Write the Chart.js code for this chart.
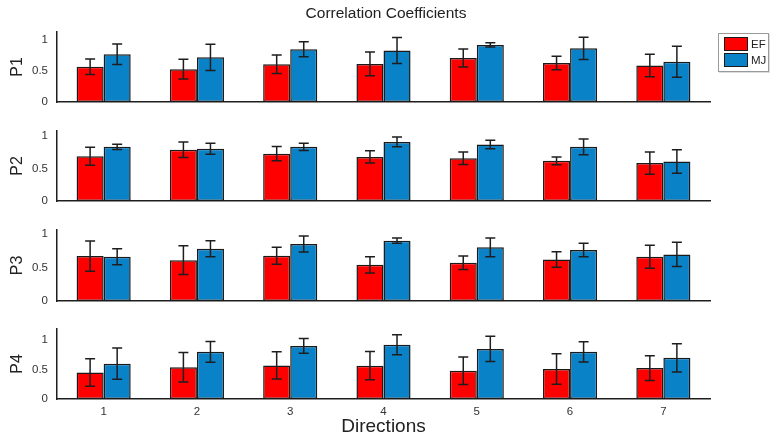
<!DOCTYPE html>
<html>
<head>
<meta charset="utf-8">
<script src="https://cdn.jsdelivr.net/npm/chart.js@4.4.1/dist/chart.umd.min.js"></script>
<style>
  html, body { margin: 0; padding: 0; background: #fff; }
  body { width: 772px; height: 442px; position: relative; overflow: hidden; font-family: "Liberation Sans", Arial, sans-serif; }
  #title { position: absolute; left: 0; top: 4px; width: 772px; text-align: center; font-size: 15.5px; color: #222; z-index: 2; }
  .panel { position: absolute; left: 0; }
  #legend { position: absolute; left: 718px; top: 33px; width: 49px; height: 37px; border: 1px solid #9a9a9a; background: #fff; box-shadow: 1px 1px 0 #ddd; z-index: 2; }
  .lg { position: absolute; left: 5px; height: 14px; width: 24px; border: 1.5px solid #1a1a1a; box-sizing: border-box; }
  .lt { position: absolute; left: 32px; font-size: 11.5px; color: #222; line-height: 14px; }
</style>
</head>
<body>
<div id="title">Correlation Coefficients</div>
<div id="panels"></div>
<div id="legend">
  <div class="lg" style="top:3px;background:#FF0000"></div><div class="lt" style="top:3px">EF</div>
  <div class="lg" style="top:19px;background:#0A82C8"></div><div class="lt" style="top:19px">MJ</div>
</div>
<script>
// ---- data ----
const directions = ['1', '2', '3', '4', '5', '6', '7'];
const panelNames = ['P1', 'P2', 'P3', 'P4'];
const seriesNames = ['EF', 'MJ'];
const yTickValues = [0, 0.5, 1];
const yMax = [1.13, 1.08, 1.06, 1.19];

const efP1 = [0.57, 0.53, 0.61, 0.615, 0.71, 0.63, 0.59];
const efErrP1 = [0.125, 0.16, 0.15, 0.19, 0.145, 0.11, 0.18];
const mjP1 = [0.77, 0.72, 0.85, 0.83, 0.92, 0.865, 0.65];
const mjErrP1 = [0.165, 0.21, 0.12, 0.21, 0.035, 0.18, 0.25];

const efP2 = [0.69, 0.79, 0.73, 0.68, 0.66, 0.62, 0.585];
const efErrP2 = [0.14, 0.12, 0.11, 0.095, 0.095, 0.06, 0.17];
const mjP2 = [0.835, 0.805, 0.835, 0.91, 0.87, 0.835, 0.61];
const mjErrP2 = [0.04, 0.085, 0.055, 0.075, 0.065, 0.12, 0.18];

const efP3 = [0.67, 0.61, 0.675, 0.54, 0.57, 0.62, 0.66];
const efErrP3 = [0.225, 0.215, 0.125, 0.12, 0.10, 0.115, 0.17];
const mjP3 = [0.66, 0.78, 0.85, 0.90, 0.80, 0.76, 0.695];
const mjErrP3 = [0.12, 0.12, 0.12, 0.04, 0.14, 0.10, 0.18];

const efP4 = [0.45, 0.54, 0.57, 0.565, 0.48, 0.51, 0.525];
const efErrP4 = [0.235, 0.25, 0.23, 0.24, 0.235, 0.26, 0.21];
const mjP4 = [0.60, 0.80, 0.90, 0.92, 0.85, 0.80, 0.70];
const mjErrP4 = [0.265, 0.175, 0.125, 0.17, 0.215, 0.17, 0.24];

const efMeans = [efP1, efP2, efP3, efP4];
const efErrs = [efErrP1, efErrP2, efErrP3, efErrP4];
const mjMeans = [mjP1, mjP2, mjP3, mjP4];
const mjErrs = [mjErrP1, mjErrP2, mjErrP3, mjErrP4];

// ---- layout (pixel placement of each panel's plot area) ----
const axisTops = [32, 131, 230, 329];
const baselines = [102, 201, 301, 399];
const AXIS_LEFT = 57;
const PAD_RIGHT = 62;

const errorBarPlugin = {
  id: 'errorBars',
  afterDatasetsDraw(chart) {
    const ctx = chart.ctx;
    const ys = chart.scales.y;
    ctx.save();
    ctx.strokeStyle = '#1e1e1e';
    ctx.lineWidth = 1.5;
    chart.data.datasets.forEach((ds, di) => {
      const meta = chart.getDatasetMeta(di);
      meta.data.forEach((bar, j) => {
        const v = ds.data[j], e = ds.errors[j];
        const x = bar.x;
        const yt = ys.getPixelForValue(v + e);
        const yb = ys.getPixelForValue(v - e);
        ctx.beginPath();
        ctx.moveTo(x, yt); ctx.lineTo(x, yb);
        ctx.moveTo(x - 5, yt); ctx.lineTo(x + 5, yt);
        ctx.moveTo(x - 5, yb); ctx.lineTo(x + 5, yb);
        ctx.stroke();
      });
    });
    ctx.restore();
  }
};

function buildPanel(i, h) {
  const name = panelNames[i];
  const isLast = i === panelNames.length - 1;
  const xh = isLast ? 43 : 10;
  const wrap = document.createElement('div');
  wrap.className = 'panel';
  wrap.style.width = '772px';
  wrap.style.height = h + 'px';
  const cv = document.createElement('canvas');
  cv.width = 772; cv.height = h;
  cv.style.width = '772px'; cv.style.height = h + 'px';
  wrap.appendChild(cv);
  document.getElementById('panels').appendChild(wrap);
  const chart = new Chart(cv, {
    type: 'bar',
    data: {
      labels: directions,
      datasets: [
        { label: seriesNames[0], data: efMeans[i], errors: efErrs[i], backgroundColor: '#FF0000', borderColor: '#1a1a1a', borderWidth: 1.5, borderSkipped: false },
        { label: seriesNames[1], data: mjMeans[i], errors: mjErrs[i], backgroundColor: '#0A82C8', borderColor: '#1a1a1a', borderWidth: 1.5, borderSkipped: false }
      ]
    },
    options: {
      responsive: false,
      maintainAspectRatio: false,
      animation: false,
      devicePixelRatio: 1,
      layout: { padding: { top: 0, left: 0, right: PAD_RIGHT, bottom: 0 } },
      datasets: { bar: { categoryPercentage: 0.58, barPercentage: 1.0 } },
      plugins: { legend: { display: false }, tooltip: { enabled: false }, title: { display: false } },
      scales: {
        x: {
          offset: true,
          grid: { display: false, drawTicks: false },
          border: { display: true, color: '#1e1e1e', width: 1.5 },
          ticks: { display: isLast, color: '#333', font: { family: 'Liberation Sans', size: 11.5 }, padding: 6, maxRotation: 0 },
          title: { display: isLast, text: 'Directions', color: '#222', font: { family: 'Liberation Sans', size: 19 }, padding: { top: 0, bottom: 4 } },
          afterFit(s) { s.height = xh; }
        },
        y: {
          min: 0,
          max: yMax[i],
          grid: { display: false, drawTicks: false },
          border: { display: true, color: '#1e1e1e', width: 1.5 },
          afterBuildTicks(s) { s.ticks = yTickValues.map(v => ({ value: v })); },
          ticks: { color: '#333', font: { family: 'Liberation Sans', size: 11.5 }, padding: 9, callback: v => String(v) },
          title: { display: true, text: name, color: '#222', font: { family: 'Liberation Sans', size: 16 }, padding: { top: 8, bottom: 0 } },
          afterFit(s) { s.width = AXIS_LEFT; }
        }
      }
    },
    plugins: [errorBarPlugin]
  });
  return { wrap, chart };
}

panelNames.forEach((name, i) => {
  const plotH = baselines[i] - axisTops[i];
  // first pass: measure the space the library keeps around the plot area
  const h0 = plotH + 60;
  const probe = buildPanel(i, h0);
  const topOff = probe.chart.chartArea.top;
  const botOff = h0 - probe.chart.chartArea.bottom;
  probe.chart.destroy();
  probe.wrap.remove();
  // second pass: size the canvas so the plot area matches the reference
  const h = Math.round(plotH + topOff + botOff);
  const p = buildPanel(i, h);
  p.wrap.style.top = (axisTops[i] - p.chart.chartArea.top) + 'px';
});
</script>
</body>
</html>
